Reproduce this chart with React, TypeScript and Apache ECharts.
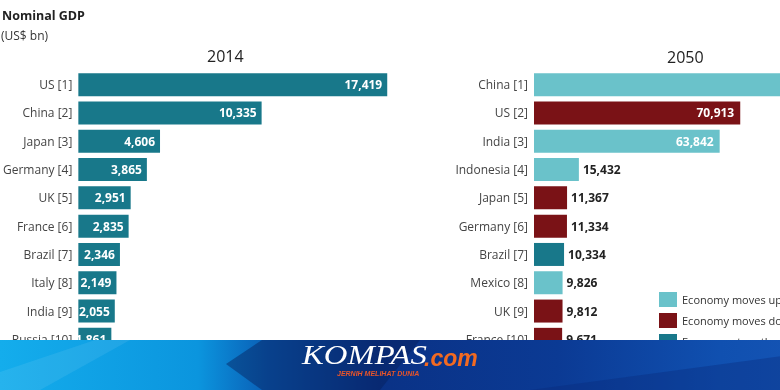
import React, { useEffect, useRef } from "react";
import * as echarts from "echarts";

const categories2014 = ["US [1]", "China [2]", "Japan [3]", "Germany [4]", "UK [5]", "France [6]", "Brazil [7]", "Italy [8]", "India [9]", "Russia [10]"];
const values2014 = [17419, 10335, 4606, 3865, 2951, 2835, 2346, 2149, 2055, 1861];
const categories2050 = ["China [1]", "US [2]", "India [3]", "Indonesia [4]", "Japan [5]", "Germany [6]", "Brazil [7]", "Mexico [8]", "UK [9]", "France [10]"];
const values2050 = [105916, 70913, 63842, 15432, 11367, 11334, 10334, 9826, 9812, 9671];
const moves2050 = ["up", "down", "up", "up", "down", "down", "same", "up", "down", "down"];
const moveKeys = ["up", "down", "same"];
const legendLabels = ["Economy moves up", "Economy moves down", "Economy stays the same"];

const FONT = "'Open Sans', 'Noto Sans', sans-serif";
const TEAL = "#18788a";
const LIGHT = "#6ac2ca";
const RED = "#7a1216";
const moveColors: Record<string, string> = { up: LIGHT, down: RED, same: TEAL };

const fmt = (v: number) => v.toLocaleString("en-US");

export default function App() {
  const ref = useRef<HTMLDivElement>(null);
  useEffect(() => {
    if (!ref.current) return;
    const chart = echarts.init(ref.current, undefined, { renderer: "svg" });
    const gridTop = 70.5;
    const gridH = 283;
    const series2050 = moveKeys.map((key, k) => ({
      name: legendLabels[k],
      type: "bar",
      stack: "rank",
      xAxisIndex: 1,
      yAxisIndex: 1,
      barWidth: 23,
      itemStyle: { color: moveColors[key] },
      label: {
        show: true,
        position: "right",
        distance: 4,
        color: "#222",
        fontFamily: FONT,
        fontWeight: "bold",
        fontSize: 12,
        formatter: (p: any) => fmt(p.value),
      },
      data: values2050.map((v, i) =>
        moves2050[i] === key
          ? v > 50000
            ? { value: v, label: { position: "insideRight", color: "#fff", distance: 6 } }
            : v
          : null
      ),
    }));

    chart.setOption({
      animation: false,
      textStyle: { fontFamily: FONT },
      title: [
        { text: "Nominal GDP", left: -3, top: 4, textStyle: { fontSize: 12.5, fontWeight: "bold", color: "#222", fontFamily: FONT } },
        { text: "(US$ bn)", left: -4, top: 24, textStyle: { fontSize: 12, fontWeight: "normal", color: "#333", fontFamily: FONT } },
        { text: "2014", left: 202, top: 43, textStyle: { fontSize: 16, fontWeight: "normal", color: "#222", fontFamily: FONT } },
        { text: "2050", left: 662, top: 44, textStyle: { fontSize: 16, fontWeight: "normal", color: "#222", fontFamily: FONT } },
      ],
      legend: {
        orient: "vertical",
        left: 654,
        top: 287,
        itemWidth: 18,
        itemHeight: 15,
        itemGap: 6,
        icon: "rect",
        textStyle: { fontSize: 11, color: "#333", fontFamily: FONT },
        data: legendLabels,
      },
      grid: [
        { left: 77, top: gridTop, width: 356, height: gridH },
        { left: 534, top: gridTop, width: 349, height: gridH },
      ],
      xAxis: [
        { type: "value", gridIndex: 0, min: 0, max: 20000, show: false, splitLine: { show: false } },
        { type: "value", gridIndex: 1, min: 0, max: 120000, show: false, splitLine: { show: false } },
      ],
      yAxis: [
        {
          type: "category",
          gridIndex: 0,
          inverse: true,
          data: categories2014,
          axisLine: { show: false },
          axisTick: { show: false },
          axisLabel: { margin: 6, fontSize: 12, color: "#444", fontFamily: FONT },
        },
        {
          type: "category",
          gridIndex: 1,
          inverse: true,
          data: categories2050,
          axisLine: { show: false },
          axisTick: { show: false },
          axisLabel: { margin: 6, fontSize: 12, color: "#444", fontFamily: FONT },
        },
      ],
      series: [
        {
          name: "2014",
          type: "bar",
          xAxisIndex: 0,
          yAxisIndex: 0,
          barWidth: 23,
          itemStyle: { color: TEAL },
          label: {
            show: true,
            position: "insideRight",
            distance: 5,
            color: "#fff",
            fontFamily: FONT,
            fontWeight: "bold",
            fontSize: 12,
            formatter: (p: any) => fmt(p.value),
          },
          data: values2014,
        },
        ...series2050,
      ],
      graphic: [
        {
          type: "group",
          z: 100,
          children: [
            {
              type: "rect",
              shape: { x: 0, y: 340, width: 900, height: 50 },
              style: {
                fill: new echarts.graphic.LinearGradient(0, 0, 1, 0, [
                  { offset: 0, color: "#14adec" },
                  { offset: 0.22, color: "#0b95de" },
                  { offset: 0.3, color: "#0a5cb4" },
                  { offset: 0.42, color: "#0a3286" },
                  { offset: 0.62, color: "#0b3a94" },
                  { offset: 0.8, color: "#1050b0" },
                  { offset: 1, color: "#1a58b8" },
                ]),
              },
              z: 100,
            },
            {
              type: "polygon",
              shape: { points: [[0, 390], [0, 372], [95, 340], [130, 340], [40, 390]] },
              style: { fill: "rgba(255,255,255,0.08)" },
              z: 101,
            },
            {
              type: "polygon",
              shape: { points: [[226, 364], [262, 340], [420, 340], [380, 390], [262, 390]] },
              style: { fill: "rgba(6,30,90,0.45)" },
              z: 101,
            },
            {
              type: "polygon",
              shape: { points: [[530, 390], [900, 340], [900, 390]] },
              style: { fill: "rgba(10,40,120,0.35)" },
              z: 101,
            },
            {
              type: "text",
              x: 302,
              y: 369,
              scaleX: 1.17,
              style: {
                text: "KOMPAS",
                fill: "#fff",
                font: "italic 28px 'Liberation Serif', 'DejaVu Serif', serif",
                verticalAlign: "bottom",
              },
              z: 102,
            },
            {
              type: "text",
              x: 424,
              y: 369,
              style: {
                text: ".com",
                fill: "#f26a21",
                font: "italic bold 23px 'Liberation Sans', Arial, sans-serif",
                verticalAlign: "bottom",
              },
              z: 103,
            },
            {
              type: "text",
              x: 337,
              y: 370,
              style: { text: "JERNIH MELIHAT DUNIA", fill: "#e8552a", font: "italic bold 7px 'Liberation Sans', Arial, sans-serif" },
              z: 102,
            },
          ],
        },
      ],
    });
    return () => chart.dispose();
  }, []);
  return <div ref={ref} style={{ position: "fixed", left: 0, top: 0, width: 900, height: 390 }} />;
}
